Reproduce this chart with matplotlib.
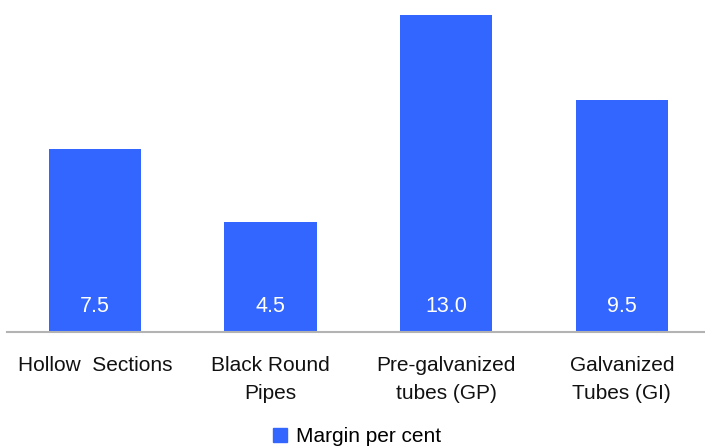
import matplotlib
matplotlib.use("Agg")
import matplotlib.pyplot as plt
from matplotlib.lines import Line2D

plt.rcParams['font.family'] = ['Liberation Sans', 'DejaVu Sans']

categories = ["Hollow  Sections", "Black Round\nPipes", "Pre-galvanized\ntubes (GP)", "Galvanized\nTubes (GI)"]
margin = [7.5, 4.5, 13.0, 9.5]
value_labels = ["7.5", "4.5", "13.0", "9.5"]
series_name = "Margin per cent"

bar_color = "#3366FF"

W, H = 705, 447
fig = plt.figure(figsize=(W / 100, H / 100), dpi=100)

x0, x1 = 7.0, 709.6
y_base = 332.0
px_per_unit = 24.38
ymax = 14.0
ax = fig.add_axes([x0 / W, (H - y_base) / H, (x1 - x0) / W, ymax * px_per_unit / H])

xs = list(range(len(categories)))
ax.bar(xs, margin, width=0.525, color=bar_color, zorder=2)
ax.set_xlim(-0.5, len(categories) - 0.5)
ax.set_ylim(0, ymax)

for s in ("top", "right", "left"):
    ax.spines[s].set_visible(False)
ax.spines["bottom"].set_color("#b3b3b3")
ax.spines["bottom"].set_linewidth(1.5)
ax.set_yticks([])
ax.set_xticks(xs)
ax.set_xticklabels(categories, fontsize=15, color="#111111", linespacing=1.56)
ax.tick_params(axis="x", length=0, pad=17.5)

for xi, lbl in zip(xs, value_labels):
    ax.annotate(lbl, xy=(xi, 0), xytext=(0, 25 * 0.72), textcoords="offset points",
                ha="center", va="center", color="white", fontsize=15.5)

handle = Line2D([], [], marker="s", linestyle="none", markersize=9.4,
                markerfacecolor=bar_color, markeredgecolor=bar_color)
fig.legend([handle], [series_name], loc="center", bbox_to_anchor=(356 / W, 1 - 437 / H),
           frameon=False, fontsize=15, handletextpad=0.3, handlelength=0.9)

fig.savefig("out.png", dpi=100)
